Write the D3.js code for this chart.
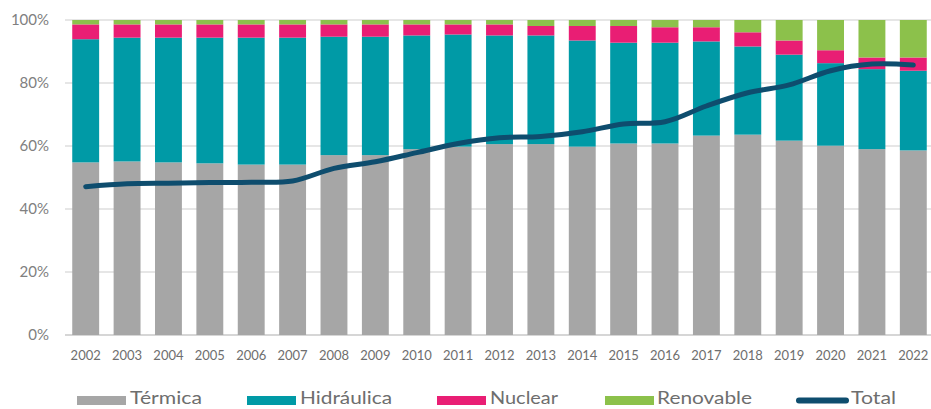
<!DOCTYPE html>
<html><head><meta charset="utf-8">
<script src="https://cdn.jsdelivr.net/npm/d3@7"></script>
<style>
html,body{margin:0;padding:0;background:#fff;}
svg{display:block;font-family:Lato,"Open Sans",sans-serif;}
</style></head>
<body>
<svg id="chart" width="931" height="409"></svg>
<script>
const years = ["2002","2003","2004","2005","2006","2007","2008","2009","2010","2011","2012","2013","2014","2015","2016","2017","2018","2019","2020","2021","2022"];
const termica    = [54.8,55.1,54.8,54.5,54.1,54.1,57.1,57.1,59.0,59.8,60.6,60.6,59.8,60.8,60.8,63.3,63.6,61.7,60.1,59.0,58.6];
const hidraulica = [39.1,39.3,39.6,39.9,40.3,40.3,37.6,37.6,36.1,35.6,34.5,34.5,33.7,32.0,32.0,29.9,28.0,27.3,26.2,25.4,25.3];
const nuclear    = [4.7,4.2,4.2,4.2,4.2,4.2,3.9,3.9,3.5,3.2,3.5,3.0,4.6,5.3,4.9,4.5,4.5,4.5,4.1,3.7,4.2];
const renovable  = [1.4,1.4,1.4,1.4,1.4,1.4,1.4,1.4,1.4,1.4,1.4,1.9,1.9,1.9,2.3,2.3,3.9,6.5,9.6,11.9,11.9];
const total      = [47.1,48.0,48.2,48.4,48.5,48.9,52.9,55.0,57.9,60.8,62.6,63.0,64.5,67.0,67.7,72.7,76.9,79.4,83.9,86.0,85.7];
const yTicks = [0,20,40,60,80,100];
const seriesNames = ["Térmica","Hidráulica","Nuclear","Renovable"];
const seriesColors = ["#a6a6a6","#009aa6","#e91e74","#8cc14b"];
const lineColor = "#0e4d6e";

const svg = d3.select("#chart");
const x = d3.scaleBand().domain(years).range([65,934]).paddingInner(0.35).paddingOuter(0.175);
const y = d3.scaleLinear().domain([0,100]).range([335,20]);

// grid
svg.append("g").selectAll("line").data(yTicks).join("line")
  .attr("x1",65).attr("x2",931)
  .attr("y1",d=>y(d)).attr("y2",d=>y(d))
  .attr("stroke",d=>d===0?"#c8c8c8":"#dedede").attr("stroke-width",1.3);

// y labels
svg.append("g").selectAll("text").data(yTicks).join("text")
  .attr("x",49).attr("y",d=>y(d)).attr("dy","0.36em")
  .attr("text-anchor","end").attr("font-size",15).attr("fill","#808080")
  .text(d=>d+"%");

// x labels
svg.append("g").selectAll("text").data(years).join("text")
  .attr("x",d=>x(d)+x.bandwidth()/2).attr("y",355).attr("dy","0.36em")
  .attr("text-anchor","middle").attr("font-size",13).attr("fill","#6e6e6e")
  .text(d=>d);

// stacked bars
const table = years.map((yr,i)=>({year:yr,"Térmica":termica[i],"Hidráulica":hidraulica[i],"Nuclear":nuclear[i],"Renovable":renovable[i]}));
const stack = d3.stack().keys(seriesNames)(table);
svg.append("g").selectAll("g").data(stack).join("g")
  .attr("fill",(d,i)=>seriesColors[i])
  .selectAll("rect").data(d=>d).join("rect")
  .attr("x",d=>x(d.data.year)).attr("width",x.bandwidth())
  .attr("y",d=>y(d[1])).attr("height",d=>y(d[0])-y(d[1]));

// total line
const line = d3.line()
  .x((d,i)=>x(years[i])+x.bandwidth()/2)
  .y(d=>y(d))
  .curve(d3.curveCatmullRom.alpha(0.5));
svg.append("path").datum(total).attr("d",line)
  .attr("fill","none").attr("stroke",lineColor).attr("stroke-width",5)
  .attr("stroke-linecap","round").attr("stroke-linejoin","round");

// legend
const legendSw = [77,247,437,605];
const legendTx = [130,300,490,657];
const legendLen = [72,92,68,95];
const lg = svg.append("g");
seriesNames.forEach((n,i)=>{
  lg.append("rect").attr("x",legendSw[i]).attr("y",396).attr("width",49).attr("height",9).attr("fill",seriesColors[i]);
  lg.append("text").attr("x",legendTx[i]).attr("y",404)
    .attr("font-size",17).attr("fill","#6e6e6e")
    .attr("textLength",legendLen[i]).attr("lengthAdjust","spacingAndGlyphs").text(n);
});
lg.append("line").attr("x1",799).attr("x2",846).attr("y1",400.5).attr("y2",400.5)
  .attr("stroke",lineColor).attr("stroke-width",6).attr("stroke-linecap","round");
lg.append("text").attr("x",851).attr("y",404)
  .attr("font-size",17).attr("fill","#6e6e6e")
  .attr("textLength",45).attr("lengthAdjust","spacingAndGlyphs").text("Total");
</script>
</body></html>
